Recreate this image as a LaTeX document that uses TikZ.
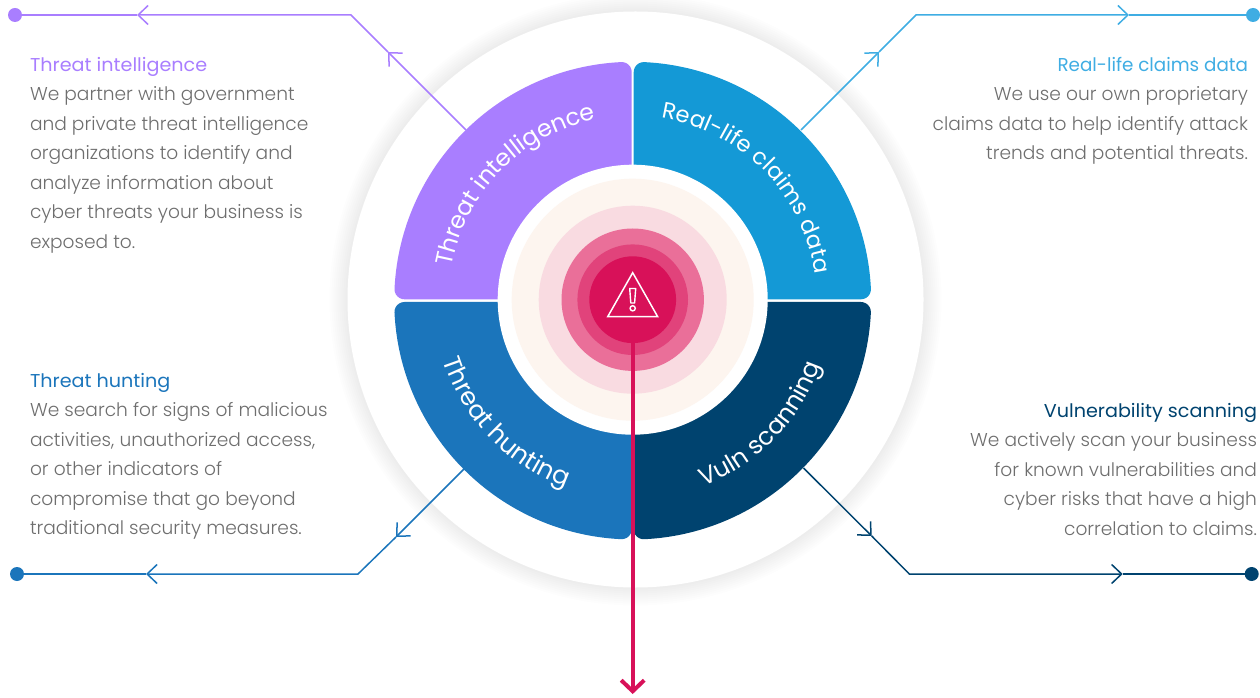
\documentclass[tikz,border=0pt]{standalone}
\usepackage{fontspec}
\setmainfont{Poppins}
\newfontfamily\bodyf[UprightFont=* Light]{Poppins}
\newfontfamily\headf[FakeStretch=1.03]{Poppins}
\newfontfamily\headn[FakeStretch=0.985]{Poppins}
\newfontfamily\ringf{Poppins}
\usetikzlibrary{arrows.meta,decorations.text}
\definecolor{cpurple}{HTML}{A97EFF}
\definecolor{ccyan}{HTML}{1499D6}
\definecolor{csky}{HTML}{3FADE3}
\definecolor{cblue}{HTML}{1B75BB}
\definecolor{cnavy}{HTML}{00436F}
\definecolor{cred}{HTML}{D81159}
\definecolor{ctext}{HTML}{6E6E6E}
\definecolor{rA}{HTML}{FDF5EF}
\definecolor{rB}{HTML}{F9DBE1}
\definecolor{rC}{HTML}{EA6F99}
\definecolor{rD}{HTML}{E1437B}
% #1 colour, #2 rotation, #3 centre height
\newcommand{\qwedge}[3]{\fill[#1,shift={(632.7,#3)},rotate=#2]
  (1,1) -- (1,228.2) arc[start angle=180,end angle=87.24,radius=10pt]
  arc[start angle=87.24,end angle=2.76,radius=238.5pt]
  arc[start angle=2.76,end angle=-90,radius=10pt] -- cycle;}
% #1 text, #2 rotation of the arc, #3 start, #4 end, #5 radius, #6 size
\newcommand{\ringtext}[6]{\path[shift={(632.7,397.3)},rotate=#2,decorate,decoration={text along path,text align=center,
  text={|\ringf\fontsize{#6}{#6}\selectfont\color{white}|#1}}]
  (#3:#5pt) arc[start angle=#3,end angle=#4,radius=#5pt];}
\tikzset{
  x=1pt,y=1pt,
  disc/.style={circle,inner sep=0pt,outer sep=0pt,minimum size=#1*2pt},
  blurb/.style={inner sep=0pt,outer sep=0pt,font=\bodyf\fontsize{18.6}{29.5}\selectfont,text=ctext},
  barb/.style={-{Straight Barb[length=10pt,width=19pt,line width=1.5pt]}},
  wire/.style={line width=1.5pt},
  enddot/.style={circle,inner sep=0pt,minimum size=14pt}
}
\begin{document}
\begin{tikzpicture}
\useasboundingbox (0,0) rectangle (1260,697);
% soft shadow of the white disc
\foreach \r in {306,304,302,300,298,296,294,292,290}{
  \fill[black,opacity=0.006] (635.5,397.5) circle[radius=\r pt];
}
\node[disc=288,fill=white] (plate) at (635.5,397.5) {};
\qwedge{ccyan}{0}{396.7}
\qwedge{cpurple}{90}{396.7}
\qwedge{cblue}{180}{396}
\qwedge{cnavy}{270}{396}
\node[disc=135,fill=white] (hole) at (632.7,397.3) {};
\node[disc=121,fill=rA] (ringa) at (632.7,397.3) {};
\node[disc=94,fill=rB] (ringb) at (632.7,397.3) {};
\node[disc=71.2,fill=rC] (ringc) at (632.7,397.3) {};
\node[disc=55.3,fill=rD] (ringd) at (632.7,397.3) {};
\node[disc=43.4,fill=cred] (core) at (632.7,397.3) {};
% warning sign
\draw[white,line width=1.5pt,line join=miter] (632.7,424.3) -- (607.7,380.3) -- (657.7,380.3) -- cycle;
\draw[white,line width=1.4pt,line join=round] (629.7,408.5) -- (635.7,408.5) -- (634.6,394) -- (630.8,394) -- cycle;
\draw[white,line width=1.4pt] (632.7,388.7) circle[radius=2.6pt];
% ring labels
\ringtext{Threat intelligence}{45.6}{155}{25}{184}{23.7}
\ringtext{Real-life claims data}{-45.5}{155}{25}{184}{22.6}
\ringtext{Threat hunting}{-46}{205}{335}{199}{25}
\ringtext{Vuln scanning}{45.8}{205}{335}{199}{24.5}
% connectors
\coordinate (pa) at (466,567);
\coordinate (pb) at (388,645);
\coordinate (pc) at (351,682);
\coordinate (pd) at (137,682);
\node[enddot,fill=cpurple] (pe) at (15,682) {};
\draw[wire,cpurple,barb] (pa) -- (pb);
\draw[wire,cpurple,barb] (pb) -- (pc) -- (pd);
\draw[wire,cpurple] (pd) -- (pe);
\coordinate (ca) at (801,567);
\coordinate (cb) at (879,645);
\coordinate (cc) at (916,682);
\coordinate (cd) at (1129,682);
\node[enddot,fill=csky] (ce) at (1253,682) {};
\draw[wire,csky,barb] (ca) -- (cb);
\draw[wire,csky,barb] (cb) -- (cc) -- (cd);
\draw[wire,csky] (cd) -- (ce);
\coordinate (ba) at (465,229);
\coordinate (bb) at (396,160);
\coordinate (bc) at (358,123);
\coordinate (bd) at (146,123);
\node[enddot,fill=cblue] (be) at (17,123) {};
\draw[wire,cblue,barb] (ba) -- (bb);
\draw[wire,cblue,barb] (bb) -- (bc) -- (bd);
\draw[wire,cblue] (bd) -- (be);
\coordinate (na) at (803.5,229);
\coordinate (nb) at (871.7,161);
\coordinate (nc) at (909.3,123);
\coordinate (nd) at (1122.7,123);
\node[enddot,fill=cnavy] (ne) at (1251.7,123) {};
\draw[wire,cnavy,barb] (na) -- (nb);
\draw[wire,cnavy,barb] (nb) -- (nc) -- (nd);
\draw[wire,cnavy] (nd) -- (ne);
% red arrow
\coordinate (rt) at (632.7,3);
\draw[cred,line width=4pt,-{Straight Barb[length=11pt,width=23pt,line width=4pt,line join=miter]}] (core.south) -- (rt);
% text blocks
\node[blurb,anchor=north west,align=left] (t1) at (30,640) {{\headf\color{cpurple}Threat intelligence}\\We partner with government\\and private threat intelligence\\organizations to identify and\\analyze information about\\cyber threats your business is\\exposed to.};
\node[blurb,anchor=north east,align=right] (t2) at (1248,640) {{\headn\color{csky}Real-life claims data}\\We use our own proprietary\\claims data to help identify attack\\trends and potential threats.};
\node[blurb,anchor=north west,align=left] (t3) at (30,324) {{\headf\color{cblue}Threat hunting}\\We search for signs of malicious\\activities, unauthorized access,\\or other indicators of\\compromise that go beyond\\traditional security measures.};
\node[blurb,anchor=north east,align=right] (t4) at (1257,294) {{\headf\color{cnavy}Vulnerability scanning}\\We actively scan your business\\for known vulnerabilities and\\cyber risks that have a high\\correlation to claims.};
\end{tikzpicture}
\end{document}
